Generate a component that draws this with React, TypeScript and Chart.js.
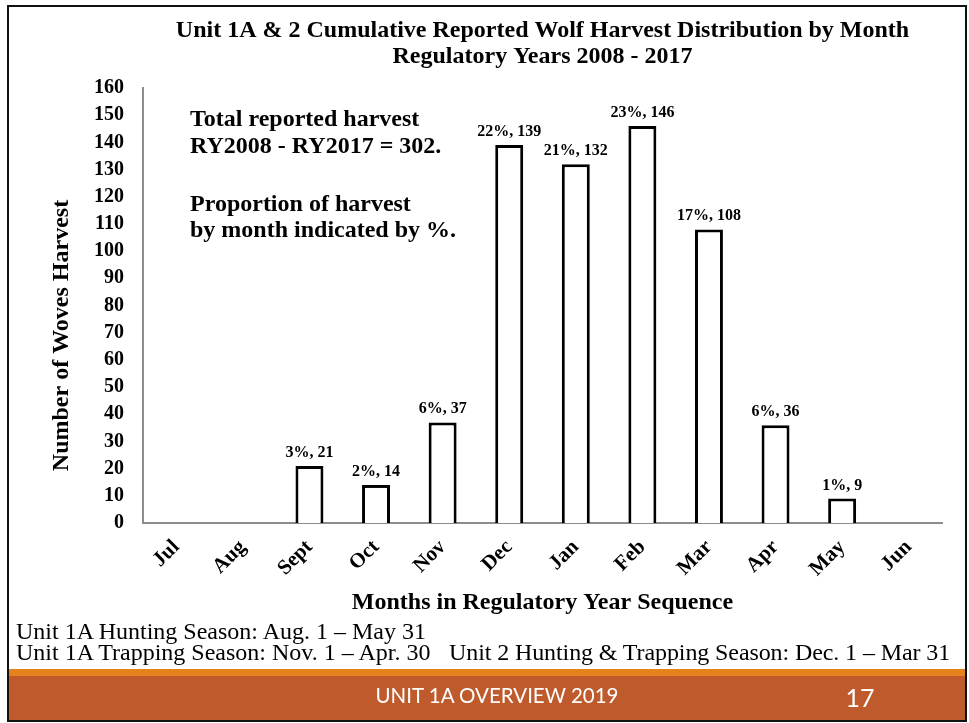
import React, { useEffect, useRef } from "react";
import { Chart, registerables } from "chart.js";

Chart.register(...registerables);

const months = ["Jul", "Aug", "Sept", "Oct", "Nov", "Dec", "Jan", "Feb", "Mar", "Apr", "May", "Jun"];
const harvest = [0, 0, 21, 14, 37, 139, 132, 146, 108, 36, 9, 0];
const percents = ["", "", "3%", "2%", "6%", "22%", "21%", "23%", "17%", "6%", "1%", ""];
const yTicks = [0, 160, 10]; // min, max, step

const titleLines = [
  "Unit 1A & 2 Cumulative Reported Wolf Harvest Distribution by Month",
  "Regulatory Years 2008 - 2017",
];
const yAxisTitle = "Number of Woves Harvest";
const xAxisTitle = "Months in Regulatory Year Sequence";
const noteLines = [
  "Total reported harvest",
  "RY2008 - RY2017 = 302.",
  "",
  "Proportion of harvest",
  "by month indicated by %.",
];
const seasonLines = [
  "Unit 1A Hunting Season: Aug. 1 \u2013 May 31",
  "Unit 1A Trapping Season: Nov. 1 \u2013 Apr. 30",
  "Unit 2 Hunting & Trapping Season: Dec. 1 \u2013 Mar 31",
];
const footerText = "UNIT 1A OVERVIEW 2019";
const pageNumber = "17";

const SERIF = "'Liberation Serif', 'Times New Roman', serif";

const barLabelPlugin = {
  id: "barLabels",
  afterDatasetsDraw(chart: any) {
    const { ctx } = chart;
    const meta = chart.getDatasetMeta(0);
    ctx.save();
    ctx.font = `bold 16px ${SERIF}`;
    ctx.fillStyle = "#000";
    ctx.textAlign = "center";
    ctx.textBaseline = "alphabetic";
    meta.data.forEach((bar: any, i: number) => {
      const v = harvest[i];
      if (!v) return;
      ctx.fillText(`${percents[i]}, ${v}`, bar.x, bar.y - 9);
    });
    ctx.restore();
  },
};

export default function App() {
  const canvasRef = useRef<HTMLCanvasElement | null>(null);

  useEffect(() => {
    const L = 30;
    const chart = new Chart(canvasRef.current as HTMLCanvasElement, {
      type: "bar",
      data: {
        labels: months,
        datasets: [
          {
            data: harvest,
            backgroundColor: "#ffffff",
            borderColor: "#000000",
            borderWidth: 3,
            barPercentage: 0.42,
            categoryPercentage: 1,
          },
        ],
      },
      options: {
        animation: false,
        responsive: false,
        layout: { padding: { left: L, right: 27, top: 0, bottom: 105 } },
        plugins: {
          legend: { display: false },
          tooltip: { enabled: false },
          title: {
            display: true,
            fullSize: false,
            text: titleLines,
            color: "#000",
            font: { family: SERIF, size: 24, weight: "bold", lineHeight: 26 / 24 },
            padding: { top: 18, bottom: 18 },
          },
        },
        scales: {
          x: {
            grid: { display: false, drawTicks: false },
            border: { color: "#8c8c8c", width: 2 },
            ticks: {
              color: "#000",
              font: { family: SERIF, size: 21, weight: "bold" },
              maxRotation: 45,
              minRotation: 45,
              labelOffset: 0,
              padding: 12,
              autoSkip: false,
            },
            title: {
              display: true,
              text: xAxisTitle,
              color: "#000",
              font: { family: SERIF, size: 24, weight: "bold", lineHeight: 1.0 },
              padding: { top: 0, bottom: 3 },
            },
            afterFit(scale: any) {
              scale.height = 95;
            },
          },
          y: {
            min: yTicks[0],
            max: yTicks[1],
            grid: { display: false, drawTicks: false },
            border: { color: "#8c8c8c", width: 2 },
            ticks: {
              stepSize: yTicks[2],
              color: "#000",
              font: { family: SERIF, size: 20, weight: "bold" },
              padding: 19,
            },
            title: {
              display: true,
              // trailing no-break spaces shift the rotated title downwards, as in the original
              text: yAxisTitle + "\u00A0".repeat(10),
              color: "#000",
              font: { family: SERIF, size: 24, weight: "bold", lineHeight: 1.2 },
              padding: { top: 17.6, bottom: 0 },
            },
            afterFit(scale: any) {
              scale.width = 143 - L;
            },
          },
        },
      },
      plugins: [barLabelPlugin],
    } as any);
    return () => chart.destroy();
  }, []);

  const noteTops = [104, 131, 0, 189, 215];

  return (
    <div style={{ position: "absolute", left: 0, top: 0, width: 969, height: 723, background: "#fff", overflow: "hidden" }}>
      <div style={{ position: "absolute", left: 9, top: 669, width: 956, height: 7, background: "#E5821B" }} />
      <div style={{ position: "absolute", left: 9, top: 676, width: 956, height: 45, background: "#BE5A2C" }} />
      <canvas ref={canvasRef} width={969} height={723} style={{ position: "absolute", left: 0, top: 0, width: 969, height: 723 }} />
      {noteLines.map((t, i) =>
        t ? (
          <div key={i} style={{ position: "absolute", left: 190, top: noteTops[i], font: `bold 24px ${SERIF}`, lineHeight: "28px", whiteSpace: "nowrap", color: "#000" }}>
            {t}
          </div>
        ) : null
      )}
      <div style={{ position: "absolute", left: 16, top: 620, font: `24px ${SERIF}`, lineHeight: "22px", whiteSpace: "nowrap", color: "#000" }}>{seasonLines[0]}</div>
      <div style={{ position: "absolute", left: 16, top: 641, font: `24px ${SERIF}`, lineHeight: "22px", whiteSpace: "nowrap", color: "#000" }}>{seasonLines[1]}</div>
      <div style={{ position: "absolute", left: 449, top: 641, font: `24px ${SERIF}`, lineHeight: "22px", whiteSpace: "nowrap", color: "#000", letterSpacing: "-0.1px" }}>{seasonLines[2]}</div>
      <div style={{ position: "absolute", left: 297, width: 400, top: 683, textAlign: "center", font: `20.5px Lato, 'Open Sans', sans-serif`, lineHeight: "24px", color: "#fff" }}>{footerText}</div>
      <div style={{ position: "absolute", left: 830, width: 60, top: 683, textAlign: "center", font: `25px Lato, 'Open Sans', sans-serif`, lineHeight: "28px", color: "#fff" }}>{pageNumber}</div>
      <div style={{ position: "absolute", left: 7, top: 5, width: 956, height: 713, border: "2px solid #111" }} />
    </div>
  );
}
